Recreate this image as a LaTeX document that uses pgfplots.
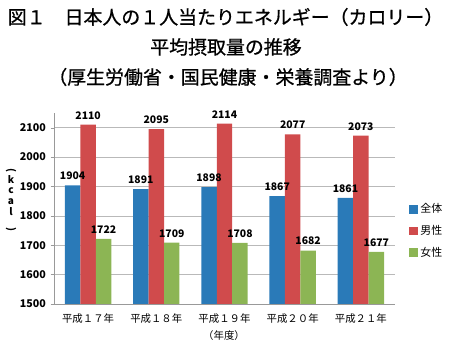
\documentclass[border=0pt]{standalone}
\usepackage{pgfplots}
\pgfplotsset{compat=1.18}
\usepackage{fontspec}
\setmainfont{Noto Sans CJK JP}
\newfontfamily\titlefont[FakeBold=0.8]{Noto Sans CJK JP}
\definecolor{cblue}{RGB}{42,122,184}
\definecolor{cred}{RGB}{208,75,76}
\definecolor{cgreen}{RGB}{140,181,84}
\begin{document}
\begin{tikzpicture}[x=0.75pt,y=0.75pt]
\useasboundingbox (0,0) rectangle (451,348);
\node[font=\titlefont\fontsize{14.2}{17}\selectfont] at (225.5,331) {図１　日本人の１人当たりエネルギー（カロリー）};
\node[font=\titlefont\fontsize{14.2}{17}\selectfont] at (226,301) {平均摂取量の推移};
\node[font=\titlefont\fontsize{14.2}{17}\selectfont] at (228,271) {（厚生労働省・国民健康・栄養調査より）};
\node[font=\fontsize{7.5}{8}\selectfont\bfseries, align=center, inner sep=0pt] at (11,148) {\rotatebox{-90}{(}\\[1pt]k\\[0pt]c\\[0pt]a\\[0pt]l\\[1pt]\rotatebox{-90}{)}};
\begin{axis}[
  at={(40.5pt,33pt)}, anchor=south west,
  scale only axis, width=255.75pt, height=143.25pt,
  ybar=0pt, bar width=11.6pt,
  xmin=-0.5, xmax=4.5, ymin=1500, ymax=2150,
  xtick={0,...,4},
  xticklabels={平成１７年,平成１８年,平成１９年,平成２０年,平成２１年},
  x tick style={draw=none},
  extra x ticks={-0.5,0.5,1.5,2.5,3.5,4.5},
  extra x tick labels={},
  extra x tick style={major tick length=4pt, tick align=outside, tick style={draw=gray!80}},
  ytick={1500,1600,...,2100},
  ymajorgrids, grid style={gray!55},
  axis x line*=bottom, axis y line*=left,
  axis line style={gray!80, -},
  y tick style={gray!80}, tick align=outside, major tick length=2.5pt,
  /pgf/number format/assume math mode=true,
  /pgf/number format/set thousands separator={},
  ticklabel style={font=\fontsize{8}{9}\selectfont\bfseries},
  xticklabel style={font=\fontsize{7.8}{9}\selectfont, yshift=-1pt},
  nodes near coords,
  every node near coord/.append style={font=\fontsize{7.8}{9}\selectfont\bfseries, yshift=0.5pt},
  legend style={at={(1.04,0.382)}, anchor=west, draw=none, fill=none,
    font=\fontsize{8.2}{9}\selectfont, row sep=4pt, inner sep=0pt},
  legend cell align=left,
  legend image code/.code={\fill[#1] (0pt,-3.3pt) rectangle (6.6pt,3.3pt);},
]
\addplot[fill=cblue, draw=none] coordinates {(0,1904) (1,1891) (2,1898) (3,1867) (4,1861)};
\addplot[fill=cred, draw=none] coordinates {(0,2110) (1,2095) (2,2114) (3,2077) (4,2073)};
\addplot[fill=cgreen, draw=none] coordinates {(0,1722) (1,1709) (2,1708) (3,1682) (4,1677)};
\legend{全体,男性,女性}
\end{axis}
\node[font=\fontsize{7.8}{9}\selectfont] at (224,12) {（年度）};
\end{tikzpicture}
\end{document}
